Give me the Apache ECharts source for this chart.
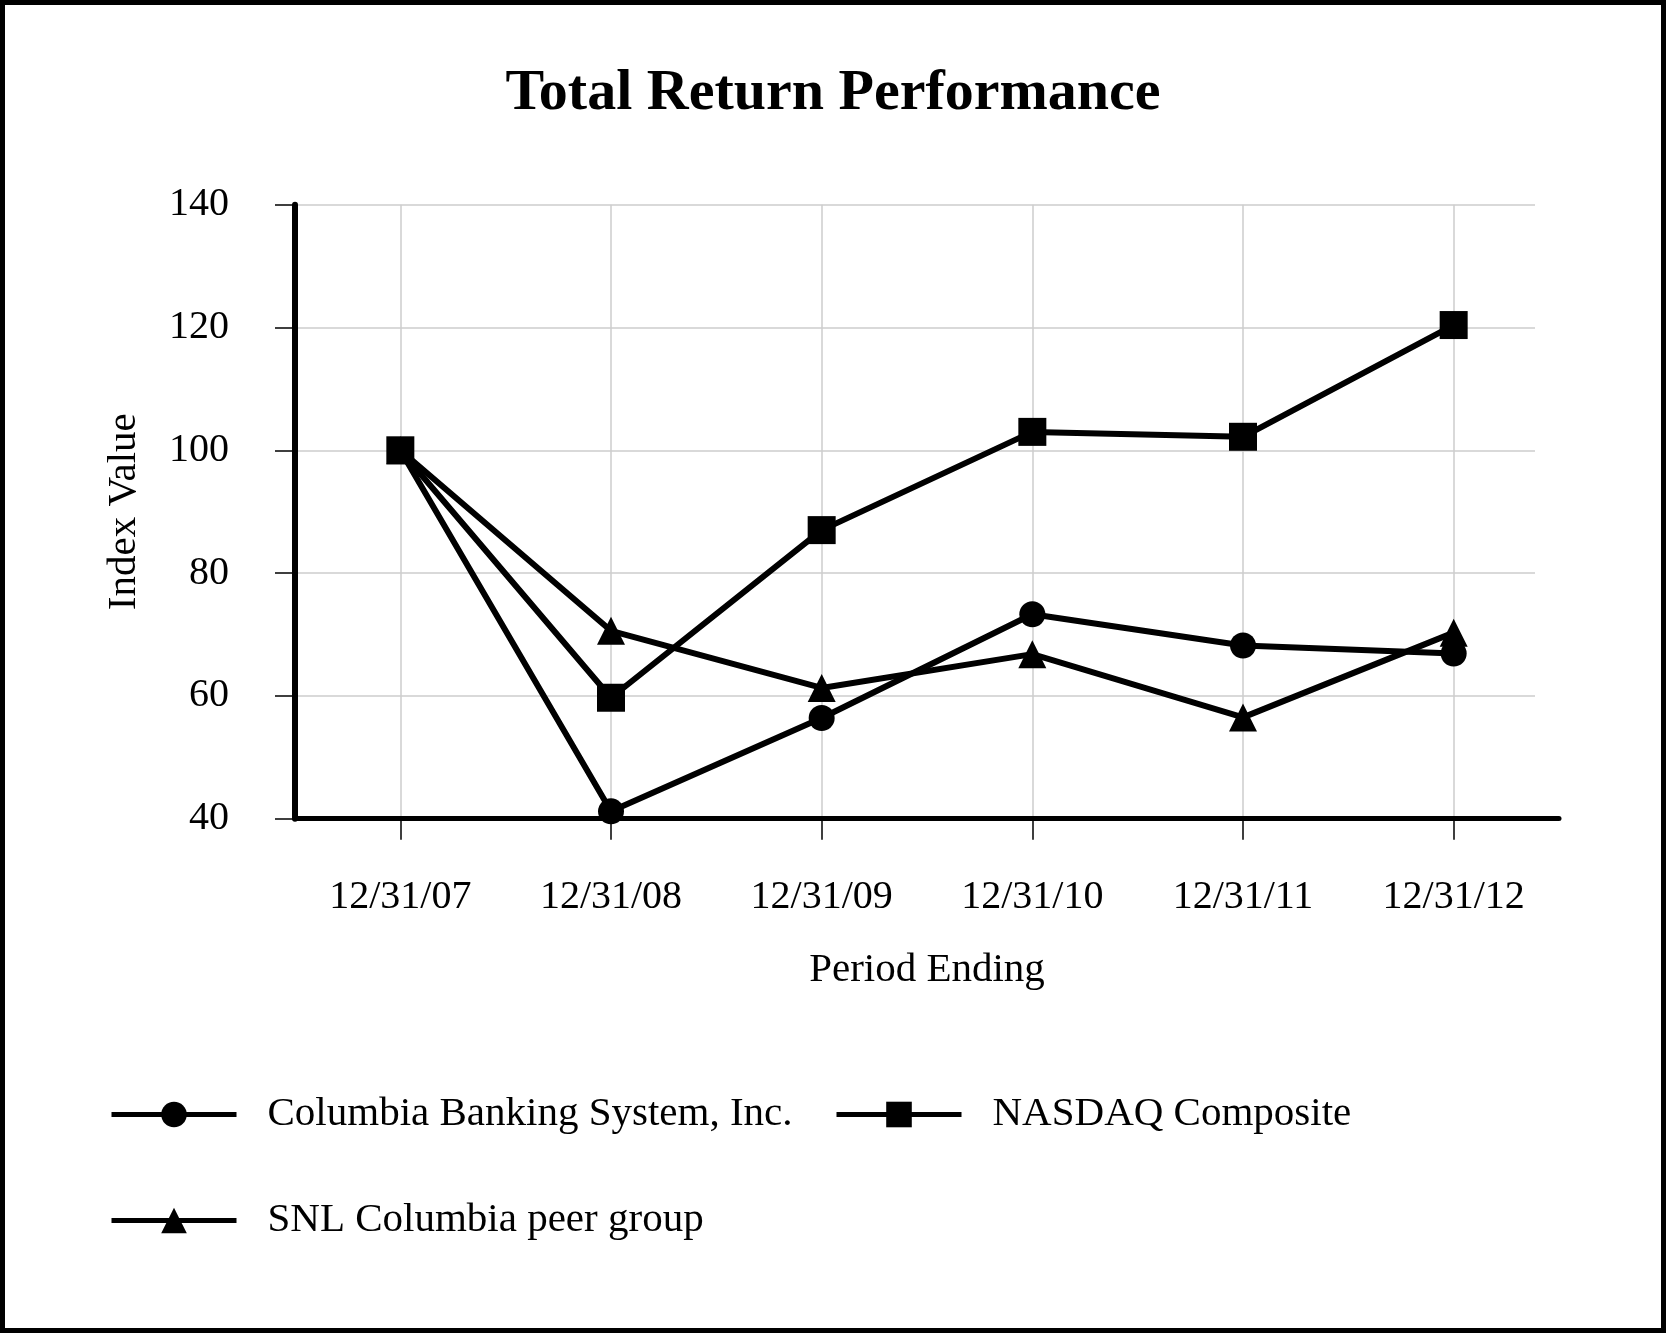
<!DOCTYPE html>
<html>
<head>
<meta charset="utf-8">
<script src="https://cdn.jsdelivr.net/npm/echarts@6/dist/echarts.min.js"></script>
<style>
html,body{margin:0;padding:0;background:#fff;}
#chart{width:1666px;height:1333px;}
</style>
</head>
<body>
<div id="chart"></div>
<script>
const categories = ['12/31/07', '12/31/08', '12/31/09', '12/31/10', '12/31/11', '12/31/12'];
const columbiaBanking = [100, 41.2, 56.4, 73.3, 68.2, 66.9];
const nasdaqComposite = [100, 59.7, 87.0, 103.0, 102.2, 120.4];
const snlPeerGroup = [100, 70.6, 61.3, 66.8, 56.5, 70.3];
const yTicks = [40, 60, 80, 100, 120, 140];

const FONT = '"Liberation Serif", "Times New Roman", serif';
const chart = echarts.init(document.getElementById('chart'), null, {renderer: 'canvas'});

const legendBase = {
  orient: 'horizontal',
  padding: 0,
  itemWidth: 125,
  itemHeight: 32,
  lineStyle: {width: 5, color: '#000'},
  textStyle: {fontFamily: FONT, fontSize: 41, color: '#000', padding: [0, 0, 0, 26]},
  selectedMode: false
};

const GRID_TOP = 204.7, GRID_BOTTOM = 514.3;

chart.setOption({
  animation: false,
  backgroundColor: '#fff',
  title: {
    text: 'Total Return Performance',
    left: 'center',
    top: 60,
    textStyle: {fontFamily: FONT, fontSize: 58, fontWeight: 'bold', color: '#000'}
  },
  graphic: [{
    type: 'rect',
    shape: {x: 2.5, y: 2.5, width: 1661, height: 1328},
    style: {fill: 'none', stroke: '#000', lineWidth: 5},
    silent: true
  }],
  legend: [
    Object.assign({}, legendBase, {data: ['Columbia Banking System, Inc.'], left: 109, top: 1094}),
    Object.assign({}, legendBase, {data: ['NASDAQ Composite'], left: 834, top: 1094}),
    Object.assign({}, legendBase, {data: ['SNL Columbia peer group'], left: 109, top: 1200})
  ],
  grid: [
    {left: 295, right: 107, top: GRID_TOP, bottom: GRID_BOTTOM, containLabel: false},
    {left: 295, right: 131, top: GRID_TOP, bottom: GRID_BOTTOM, containLabel: false}
  ],
  xAxis: [{
    type: 'category',
    gridIndex: 0,
    data: categories,
    boundaryGap: true,
    name: 'Period Ending',
    nameLocation: 'middle',
    nameGap: 131,
    nameTextStyle: {fontFamily: FONT, fontSize: 41, color: '#000'},
    axisLine: {show: true, onZero: false, lineStyle: {color: '#000', width: 5}},
    axisTick: {show: true, alignWithLabel: true, length: 21, lineStyle: {color: '#000', width: 1.5}},
    axisLabel: {fontFamily: FONT, fontSize: 40, color: '#000', margin: 59},
    splitLine: {show: true, alignWithLabel: true, lineStyle: {color: '#cccccc', width: 1.5}},
    z: 1
  }, {
    type: 'category',
    gridIndex: 1,
    data: categories,
    show: false
  }],
  yAxis: [{
    type: 'value',
    gridIndex: 0,
    min: yTicks[0],
    max: yTicks[yTicks.length - 1],
    interval: 20,
    name: 'Index Value',
    nameLocation: 'middle',
    nameGap: 150,
    nameTextStyle: {fontFamily: FONT, fontSize: 41, color: '#000'},
    axisLine: {show: true, lineStyle: {color: '#000', width: 6}},
    axisTick: {show: true, length: 20, lineStyle: {color: '#000', width: 1.5}},
    axisLabel: {fontFamily: FONT, fontSize: 40, color: '#000', margin: 66},
    splitLine: {show: false}
  }, {
    type: 'value',
    gridIndex: 1,
    min: yTicks[0],
    max: yTicks[yTicks.length - 1],
    interval: 20,
    axisLine: {show: false},
    axisTick: {show: false},
    axisLabel: {show: false},
    splitLine: {show: true, lineStyle: {color: '#cccccc', width: 1.5}},
    z: 0
  }],
  series: [
    {
      name: 'SNL Columbia peer group',
      type: 'line',
      data: snlPeerGroup,
      symbol: 'triangle',
      symbolSize: 28,
      z: 2,
      lineStyle: {color: '#000', width: 6},
      itemStyle: {color: '#000'}
    },
    {
      name: 'Columbia Banking System, Inc.',
      type: 'line',
      data: columbiaBanking,
      symbol: 'circle',
      symbolSize: 26,
      z: 3,
      lineStyle: {color: '#000', width: 6},
      itemStyle: {color: '#000'}
    },
    {
      name: 'NASDAQ Composite',
      type: 'line',
      data: nasdaqComposite,
      symbol: 'rect',
      symbolSize: 28,
      z: 4,
      lineStyle: {color: '#000', width: 6},
      itemStyle: {color: '#000'}
    }
  ]
});
</script>
</body>
</html>
